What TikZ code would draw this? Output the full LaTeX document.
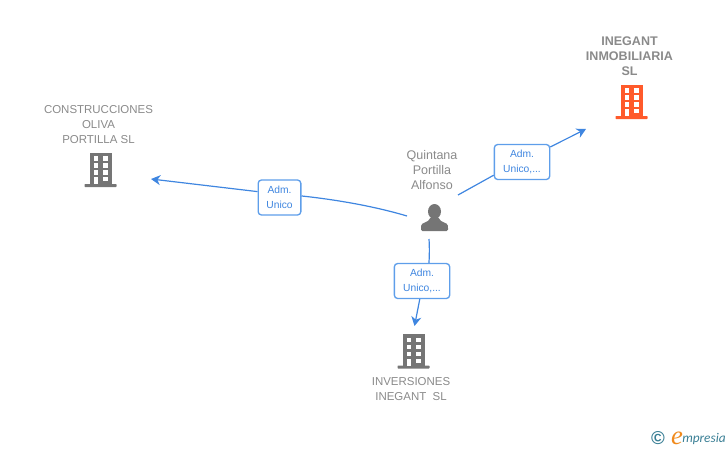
\documentclass[tikz,border=0pt]{standalone}
\usepackage{fontspec}
\setmainfont{Liberation Sans}
\newfontfamily\logofont{Liberation Serif}
\newfontfamily\logotext{Carlito}
\usetikzlibrary{arrows.meta}
\definecolor{icongray}{HTML}{757575}
\definecolor{textgray}{HTML}{8A8A8A}
\definecolor{iconorange}{HTML}{FF5A2B}
\definecolor{linkblue}{HTML}{3F86E0}
\definecolor{boxblue}{HTML}{5E9EEA}
\definecolor{logoteal}{HTML}{3A7F95}
\definecolor{logoorange}{HTML}{F08A1D}

\tikzset{
  company/.style={text=textgray,align=center,font=\fontsize{8.6}{11.25}\selectfont},
  boldcompany/.style={company,font=\fontsize{9.4}{11.25}\selectfont\bfseries},
  person/.style={text=textgray,align=center,font=\fontsize{9.4}{11.25}\selectfont},
  rolebox/.style={draw=boxblue,line width=1pt,rounded corners=2.5pt,fill=white,
    text=linkblue,align=center,inner sep=0pt,minimum height=26.25pt,
    font=\fontsize{7.7}{11.25}\selectfont},
  link/.style={draw=linkblue,line width=.9pt},
  tip/.style={-{Stealth[length=7pt,width=7.5pt,inset=2.2pt]}},
  building/.pic={
    \fill[pic actions] (-11,-3) rectangle (11,-34.5);
    \fill[pic actions,rounded corners=.5pt] (-16,0) rectangle (16,-3);
    \foreach \r in {-31,-24,-17}{
      \fill[white] (-7,\r) rectangle (-3,\r+4.5);
      \fill[white] (2.5,\r) rectangle (7,\r+4.5);
    }
    \fill[white] (-7,-10) rectangle (-3,-3);
    \fill[white] (2.5,-10) rectangle (7,-6);
  },
  bust/.pic={
    \fill[pic actions] (0,-19.5) ellipse (6.5 and 7.5);
    \fill[pic actions,rounded corners=1pt] (-13.5,0) -- (-13.5,-4)
      .. controls (-13,-9) and (-6,-8) .. (-4,-14) -- (4,-14)
      .. controls (6,-8) and (13,-9) .. (13.5,-4) -- (13.5,0) -- cycle;
  }
}

\begin{document}
\begin{tikzpicture}[x=.75pt,y=-.75pt]
  \useasboundingbox (0,0) rectangle (728,450);

  \node[company]       (oliva)  at (98.5,125) {CONSTRUCCIONES\\OLIVA\\PORTILLA SL};
  \node[boldcompany]   (inmob)  at (629.5,56.5) {INEGANT\\INMOBILIARIA\\SL};
  \node[company]       (invers) at (411,389.5) {INVERSIONES\\INEGANT\ \ SL};
  \node[person]        (quint)  at (432,170.5) {Quintana\\Portilla\\Alfonso};

  \pic[fill=icongray]   at (100.5,187) {building};
  \pic[fill=iconorange] at (631.5,119) {building};
  \pic[fill=icongray]   at (413.5,368.5) {building};
  \pic[fill=icongray]   at (434.5,231) {bust};

  \node[rolebox,minimum width=32pt] (roleA) at (279.5,197.5) {Adm.\\Unico};
  \node[rolebox,minimum width=41.5pt] (roleB) at (522,162) {Adm.\\Unico,...};
  \node[rolebox,minimum width=41.5pt] (roleC) at (422,281) {Adm.\\Unico,...};

  \coordinate (quintW) at (407,216);
  \coordinate (quintE) at (458,195);
  \coordinate (quintS) at (429,239);
  \coordinate (olivaE) at (151,179);
  \coordinate (inmobW) at (586,129);
  \coordinate (inversN) at (414.5,326);

  \draw[link] (quintW) .. controls (370,205) and (330,199) .. (roleA.4);
  \draw[link,tip] (roleA.165) -- (olivaE);
  \draw[link] (quintE) -- (roleB.205);
  \draw[link,tip] (roleB.28) -- (inmobW);
  \draw[link] (quintS) .. controls (429.5,247) and (429.5,255) .. (roleC.69);
  \draw[link,tip] (roleC.263) -- (inversN);

  % logo
  \node[text=logoteal,inner sep=0pt,font=\fontsize{14}{14}\selectfont\bfseries] (copyr) at (658,438) {©};
  \node[text=logoorange,inner sep=0pt,font=\logofont\itshape\fontsize{20}{20}\selectfont] (logoE) at (677,438) {e};
  \node[text=logoteal,inner sep=0pt,anchor=west,font=\logotext\itshape\fontsize{10}{10}\selectfont] (logoT) at (682,439) {mpresia};
\end{tikzpicture}
\end{document}
